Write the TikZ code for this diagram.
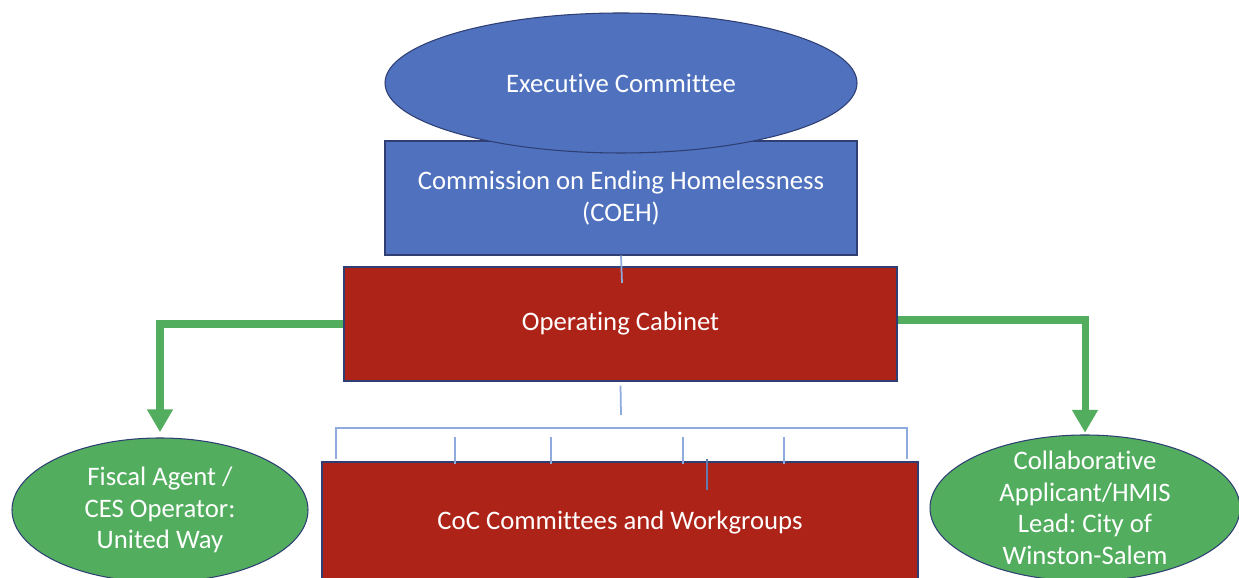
\documentclass[tikz,border=0pt]{standalone}
\usepackage{fontspec}
\setmainfont{Carlito}[Ligatures=CommonOff]
\frenchspacing
\usetikzlibrary{arrows.meta,positioning,shapes.geometric}
\definecolor{board}{HTML}{4F71BE}
\definecolor{cabinet}{HTML}{AE2318}
\definecolor{partner}{HTML}{52AE5E}
\definecolor{link}{HTML}{8FAADC}
\definecolor{rim}{HTML}{2F3F73}

\begin{document}
\begin{tikzpicture}[
  box/.style={draw=rim,line width=0.6pt,text=white,align=center,
    font=\fontsize{15.2}{18}\selectfont,inner sep=0pt},
  oval/.style={box,ellipse},
  caption/.style={text=white,align=center,font=\fontsize{15.2}{18}\selectfont},
  tie/.style={link,line width=1pt},
  feed/.style={partner,line width=4pt,-{Triangle[width=14pt,length=13pt]}}
]
  \useasboundingbox (0,0) rectangle (24.78,11.56);

  % governance stack
  \node[box,fill=board,minimum width=9.44cm,minimum height=2.28cm] (coeh) at (12.42,7.6)
    {Commission on Ending Homelessness\\(COEH)};
  \node[oval,fill=board,minimum width=9.44cm,minimum height=2.8cm] (exec) at (12.42,9.9)
    {Executive Committee};
  \node[box,fill=cabinet,minimum width=11.06cm,minimum height=2.28cm] (cab) at (12.41,5.08)
    {Operating Cabinet};
  \node[box,fill=cabinet,minimum width=11.92cm,minimum height=2.44cm] (coc) at (12.4,1.1)
    {CoC Committees and Workgroups};

  % side partners
  \node[oval,fill=partner,minimum width=5.92cm,minimum height=2.88cm] (fiscal) at (3.2,1.36) {};
  \node[caption] (fiscaltext) at (fiscal) {Fiscal Agent /\\CES Operator:\\United Way};
  \node[oval,fill=partner,minimum width=6.2cm,minimum height=2.92cm] (lead) at (21.7,1.4) {};
  \node[caption] (leadtext) at (lead) {Collaborative\\Applicant/HMIS\\Lead: City of\\Winston-Salem};

  % thin org-chart links
  \coordinate (drop) at (12.44,5.9);
  \draw[tie] (coeh.south) -- (drop);
  \coordinate (hub) at (12.42,3.0);
  \draw[tie] ([yshift=-0.08cm]cab.south) -- ([yshift=0.26cm]hub);
  \coordinate (bl) at (6.72,3.0);
  \coordinate (br) at (18.14,3.0);
  \draw[tie] ([yshift=0.05cm]bl |- coc.north) -- (bl) -- (br) -- ([yshift=0.05cm]br |- coc.north);
  \foreach \x [count=\i] in {9.1,11.02,13.66,15.68} {
    \coordinate (tick\i) at (\x,2.82);
    \draw[tie] (tick\i) -- ([yshift=-0.06cm]tick\i |- coc.north);
  }
  \coordinate (stub) at (14.14,1.76);
  \draw[tie,link!55!rim] ([yshift=0.04cm]stub |- coc.north) -- (stub);

  % green hand-offs
  \draw[feed,shorten >=3pt] (cab.west) -| (fiscal.north);
  \draw[feed,shorten >=1pt] ([yshift=0.08cm]cab.east) -| (lead.north);
\end{tikzpicture}
\end{document}
